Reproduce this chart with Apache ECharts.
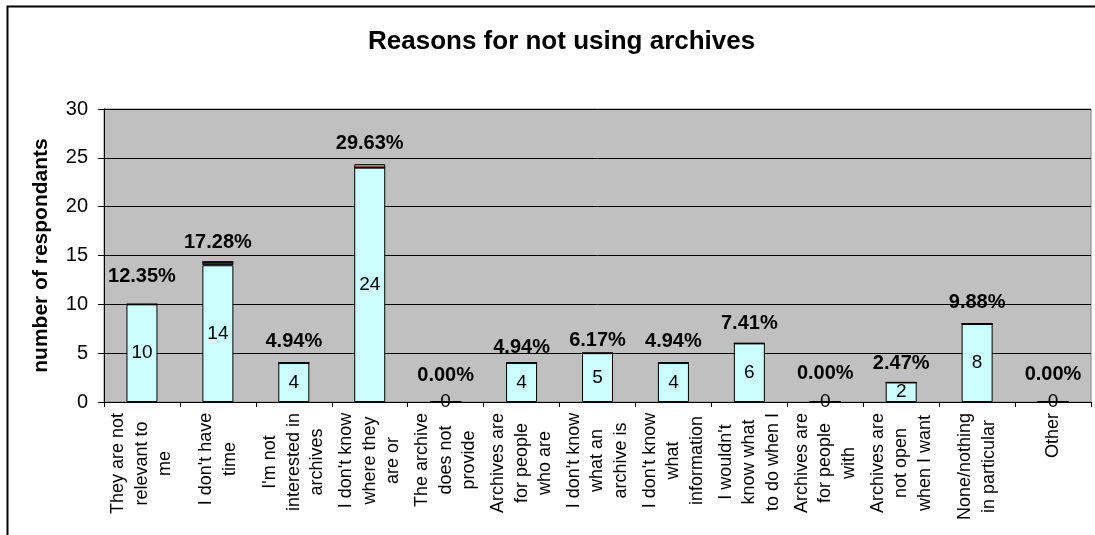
<!DOCTYPE html>
<html>
<head>
<meta charset="utf-8">
<title>Reasons for not using archives</title>
<script src="https://cdn.jsdelivr.net/npm/echarts@6/dist/echarts.min.js"></script>
<style>
  html, body { margin: 0; padding: 0; background: #fff; }
  #chart { width: 1095px; height: 535px; }
</style>
</head>
<body>
<div id="chart"></div>
<script>
// Survey answers: why respondents do not use archives
const categories = [
  "They are not\nrelevant to\nme",
  "I don't have\ntime",
  "I'm not\ninterested in\narchives",
  "I don't know\nwhere they\nare or",
  "The archive\ndoes not\nprovide",
  "Archives are\nfor people\nwho are",
  "I don't know\nwhat an\narchive is",
  "I don't know\nwhat\ninformation",
  "I wouldn't\nknow what\nto do when I",
  "Archives are\nfor people\nwith",
  "Archives are\nnot open\nwhen I want",
  "None/nothing\nin particular",
  "Other"
];
const respondents = [10, 14, 4, 24, 0, 4, 5, 4, 6, 0, 2, 8, 0];
// thin extra segments stacked on two of the bars
const extraDark = [0, 0.35, 0, 0, 0, 0, 0, 0, 0, 0, 0, 0, 0];
const extraRed  = [0, 0, 0, 0.35, 0, 0, 0, 0, 0, 0, 0, 0, 0];
const yTicks = [0, 5, 10, 15, 20, 25, 30];

// how far each percentage label sits above its bar (px)
const pctLift = [18, 9, 11, 11, 17, 5, 3, 11, 10, 19, 9, 11, 18];

const total = respondents.reduce((a, b) => a + b, 0);

const FONT = 'Arial, "Liberation Sans", sans-serif';

// per-category rich styles so wrapped lines are centred on each other
const measureCtx = document.createElement('canvas').getContext('2d');
measureCtx.font = '18px ' + FONT;
const rich = {};
categories.forEach((c, i) => {
  const w = Math.max(...c.split('\n').map(s => measureCtx.measureText(s).width));
  rich['w' + i] = {
    width: Math.ceil(w) + 1,
    align: 'center',
    fontSize: 18,
    fontFamily: FONT,
    color: '#000',
    lineHeight: 23.5
  };
});

const chart = echarts.init(document.getElementById('chart'), null, { renderer: 'canvas' });

chart.setOption({
  animation: false,
  backgroundColor: '#fff',
  title: {
    text: 'Reasons for not using archives',
    left: 363,
    top: 24,
    textStyle: {
      fontFamily: FONT,
      fontSize: 26,
      fontWeight: 'bold',
      color: '#000'
    }
  },
  graphic: [{
    type: 'rect',
    left: 5,
    top: 4,
    shape: { width: 1100, height: 540 },
    style: { fill: 'none', stroke: '#000', lineWidth: 2 },
    silent: true,
    z: 100
  }],
  grid: {
    left: 104,
    right: 4,
    top: 109,
    bottom: 133,
    show: true,
    backgroundColor: '#C0C0C0',
    borderColor: '#808080',
    borderWidth: 1
  },
  xAxis: {
    type: 'category',
    data: categories,
    axisLine: { lineStyle: { color: '#000', width: 1 } },
    axisTick: { show: true, length: 5, lineStyle: { color: '#000' } },
    axisLabel: {
      interval: 0,
      rotate: 90,
      margin: 10,
      formatter: (v, i) => v.split('\n').map(s => '{w' + i + '|' + s + '}').join('\n'),
      rich: rich
    }
  },
  yAxis: {
    type: 'value',
    min: yTicks[0],
    max: yTicks[yTicks.length - 1],
    interval: 5,
    name: 'number of respondants',
    nameLocation: 'middle',
    nameGap: 52,
    nameTextStyle: {
      fontFamily: FONT,
      fontSize: 21,
      fontWeight: 'bold',
      color: '#000'
    },
    axisLine: { show: true, lineStyle: { color: '#000', width: 1 } },
    axisTick: { show: true, length: 6, lineStyle: { color: '#000' } },
    axisLabel: {
      margin: 16,
      fontFamily: FONT,
      fontSize: 20,
      color: '#000'
    },
    splitLine: { show: true, lineStyle: { color: '#000', width: 1 } }
  },
  series: [
    {
      name: 'Respondents',
      type: 'bar',
      stack: 'total',
      barWidth: 31,
      data: respondents,
      itemStyle: { color: '#CCFFFF', borderColor: '#000', borderWidth: 1 },
      label: {
        show: true,
        position: 'inside',
        fontFamily: FONT,
        fontSize: 19,
        color: '#000'
      }
    },
    {
      name: 'Extra A',
      type: 'bar',
      stack: 'total',
      data: extraDark,
      itemStyle: { color: '#660066', borderColor: '#000', borderWidth: 1 }
    },
    {
      name: 'Extra B',
      type: 'bar',
      stack: 'total',
      data: extraRed,
      itemStyle: { color: '#FF8080', borderColor: '#000', borderWidth: 1 }
    },
    {
      name: 'Share',
      type: 'bar',
      stack: 'total',
      data: respondents.map((_, i) => ({ value: 0, label: { distance: pctLift[i] } })),
      itemStyle: { color: 'rgba(0,0,0,0)', borderWidth: 0 },
      label: {
        show: true,
        position: 'top',
        fontFamily: FONT,
        fontSize: 20,
        fontWeight: 'bold',
        color: '#000',
        formatter: p => (respondents[p.dataIndex] / total * 100).toFixed(2) + '%'
      }
    }
  ]
});
</script>
</body>
</html>
